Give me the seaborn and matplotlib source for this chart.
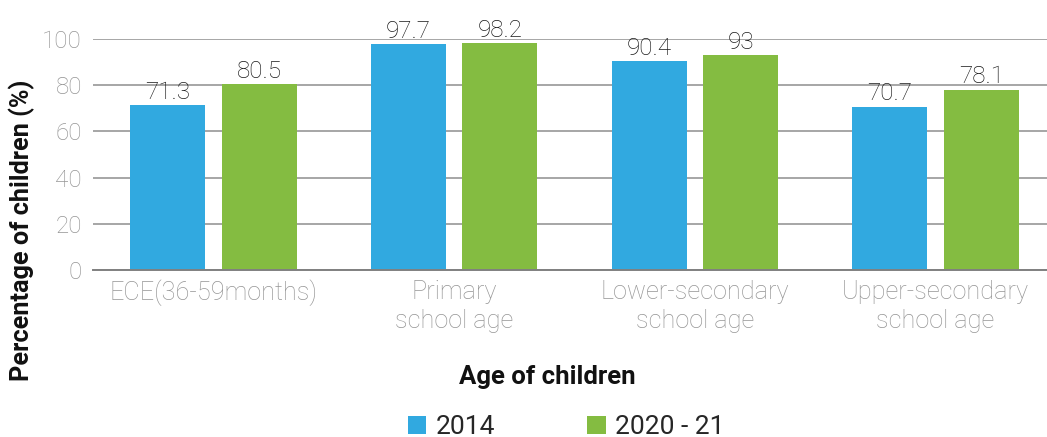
import matplotlib
matplotlib.use("Agg")
import matplotlib.pyplot as plt
from matplotlib.patches import Patch
import seaborn as sns
import pandas as pd

categories = ["ECE(36-59months)", "Primary\nschool age", "Lower-secondary\nschool age", "Upper-secondary\nschool age"]
years = ["2014", "2020 - 21"]
values_2014 = [71.3, 97.7, 90.4, 70.7]
values_2021 = [80.5, 98.2, 93.0, 78.1]
value_labels_2014 = ["71.3", "97.7", "90.4", "70.7"]
value_labels_2021 = ["80.5", "98.2", "93", "78.1"]
y_ticks = [0, 20, 40, 60, 80, 100]

df = pd.DataFrame({
    "category": categories * 2,
    "year": [years[0]] * 4 + [years[1]] * 4,
    "value": values_2014 + values_2021,
})

sns.set_theme(style="white")
plt.rcParams["font.family"] = ["Roboto", "DejaVu Sans"]

fig = plt.figure(figsize=(10.47, 4.37), dpi=100)
ax = fig.add_axes([93 / 1047, 1 - 270 / 437, 963 / 1047, 231 / 437])

palette = {"2014": "#31a9e0", "2020 - 21": "#84bc41"}
sns.barplot(data=df, x="category", y="value", hue="year", order=categories,
            hue_order=years, palette=palette, width=0.76, gap=0.18,
            saturation=1, linewidth=0, ax=ax, legend=False)

ax.set_ylim(0, 100)
ax.set_xlim(-0.5, 3.5)
ax.set_yticks(y_ticks)
ax.yaxis.grid(True, color="#a6a6a6", linewidth=1.4)
ax.set_axisbelow(True)
for s in ["top", "right", "left"]:
    ax.spines[s].set_visible(False)
ax.spines["bottom"].set_color("#808080")
ax.spines["bottom"].set_linewidth(1.4)
ax.tick_params(axis="both", length=0)
ax.tick_params(axis="y", labelsize=17.5, labelcolor="#959595", pad=8)
ax.tick_params(axis="x", labelsize=18.2, labelcolor="#959595", pad=7)
for lbl in ax.get_xticklabels() + ax.get_yticklabels():
    lbl.set_fontweight("light")
    lbl.set_linespacing(1.3)

for cont, labels in zip(ax.containers, [value_labels_2014, value_labels_2021]):
    ax.bar_label(cont, labels=labels, padding=1, fontsize=17.5,
                 color="#1a1a1a", fontweight="light")

ax.set_xlabel("Age of children", fontsize=18.5, fontweight="bold", color="#111111")
ax.set_ylabel("Percentage of children (%)", fontsize=18.2, fontweight="bold", color="#111111")
ax.xaxis.set_label_coords(0.472, -0.463)
ax.yaxis.set_label_coords(-0.074, 0.17)
ax.xaxis.label.set_va("center")
ax.yaxis.label.set_va("center")

handles = [Patch(facecolor=palette[y], edgecolor="none") for y in years]
fig.legend(handles, years, loc="center", bbox_to_anchor=(566 / 1047, 1 - 427 / 437),
           ncol=2, frameon=False, fontsize=19, handlelength=0.7, handleheight=0.7,
           handletextpad=0.35, columnspacing=3.5)

fig.savefig("out.png", dpi=100)
